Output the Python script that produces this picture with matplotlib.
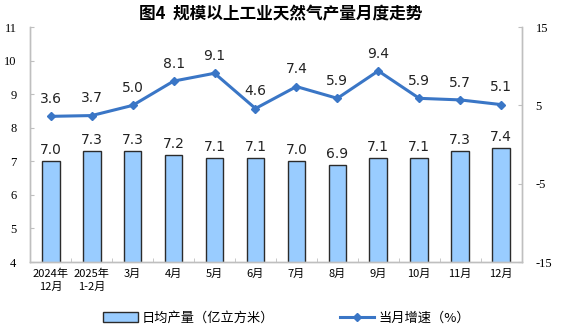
import matplotlib
matplotlib.use("Agg")
import matplotlib.pyplot as plt
import numpy as np

plt.rcParams['font.family'] = ['Noto Sans CJK SC', 'DejaVu Sans']

categories = ["2024年\n12月", "2025年\n1-2月", "3月", "4月", "5月", "6月",
              "7月", "8月", "9月", "10月", "11月", "12月"]
daily_output = [7.0, 7.3, 7.3, 7.2, 7.1, 7.1, 7.0, 6.9, 7.1, 7.1, 7.3, 7.4]
growth_rate = [3.6, 3.7, 5.0, 8.1, 9.1, 4.6, 7.4, 5.9, 9.4, 5.9, 5.7, 5.1]
left_ticks = [4, 5, 6, 7, 8, 9, 10, 11]
right_ticks = [-15, -5, 5, 15]

bar_color = "#99CCFF"
line_color = "#3A76C6"
spine_color = "#BFBFBF"

fig = plt.figure(figsize=(5.62, 3.30), dpi=100)
ax = fig.add_axes([0.054, 0.206, 0.874, 0.712])
ax2 = ax.twinx()

x = np.arange(len(categories))
bars = ax.bar(x, daily_output, width=0.43, color=bar_color,
              edgecolor="#2B2B2B", linewidth=1.0, zorder=2,
              label="日均产量（亿立方米）")
for xi, v in zip(x, daily_output):
    ax.text(xi, v + 0.12, f"{v:.1f}", ha="center", va="bottom",
            fontsize=10, family="DejaVu Sans", color="#222222")

ax.set_xlim(-0.5, len(categories) - 0.5)
ax.set_ylim(4, 11)
ax.set_yticks(left_ticks)
ax.set_yticklabels([str(t) for t in left_ticks], family="Liberation Serif",
                   fontsize=9)
ax.set_xticks(x)
ax.set_xticklabels(categories, fontsize=8, linespacing=1.3)
ax.set_xticks(np.arange(-0.5, len(categories), 1), minor=True)
ax.tick_params(axis="x", which="major", length=0, pad=5)
ax.tick_params(axis="x", which="minor", direction="in", length=3,
               color=spine_color)
ax.tick_params(axis="y", direction="in", length=3, color=spine_color,
               pad=10)

line, = ax2.plot(x, growth_rate, color=line_color, linewidth=2.2,
                 marker="D", markersize=4, zorder=3, label="当月增速（%）")
for xi, v in zip(x, growth_rate):
    ax2.text(xi, v + 1.3, f"{v:.1f}", ha="center", va="bottom",
             fontsize=10, family="DejaVu Sans", color="#222222")
ax2.set_ylim(-15, 15)
ax2.set_yticks(right_ticks)
ax2.set_yticklabels([str(t) for t in right_ticks], family="Liberation Serif",
                    fontsize=9)
ax2.tick_params(axis="y", direction="in", length=3, color=spine_color,
                pad=10)

for a in (ax, ax2):
    a.spines["top"].set_visible(False)
    for s in ("left", "right", "bottom"):
        a.spines[s].set_color(spine_color)
        a.spines[s].set_linewidth(1.0)

fig.text(0.5, 0.955, "图4  规模以上工业天然气产量月度走势", ha="center",
         va="center", fontsize=12, fontweight="bold")

fig.legend(handles=[bars, line], loc="lower center",
           bbox_to_anchor=(0.51, -0.02), ncol=2, frameon=False, fontsize=9.5,
           handlelength=2.6, columnspacing=5.0, handletextpad=0.3)

fig.savefig("out.png", dpi=100)
